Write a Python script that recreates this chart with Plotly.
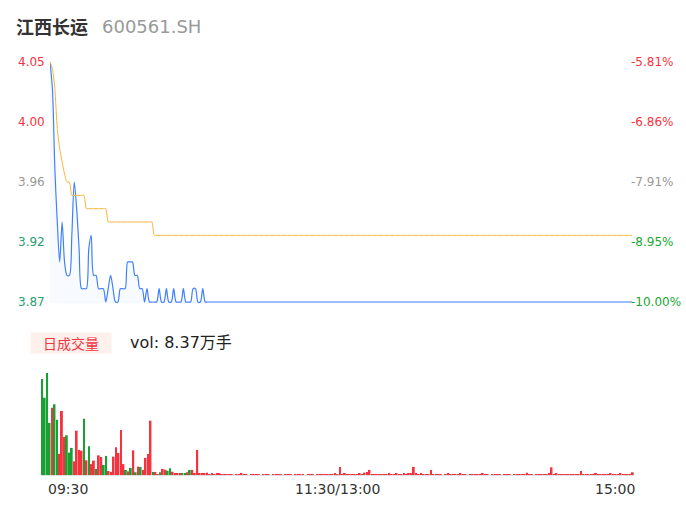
import plotly.graph_objects as go

# ---------------- data ----------------
stock_name = "江西长运"
stock_code = "600561.SH"
vol_label = "vol: 8.37万手"
time_labels = ["09:30", "11:30/13:00", "15:00"]
time_label_pos = [0, 120, 240]

price_ticks = [4.05, 4.005, 3.96, 3.915, 3.87]
price_tick_text = ["4.05", "4.00", "3.96", "3.92", "3.87"]
pct_tick_text = ["-5.81%", "-6.86%", "-7.91%", "-8.95%", "-10.00%"]

minutes = list(range(241))

price = [
    4.05, 4.03, 3.97, 3.93, 3.90, 3.93, 3.90, 3.89, 3.89, 3.92,
    3.96, 3.94, 3.91, 3.88, 3.88, 3.88, 3.91, 3.92, 3.89, 3.89,
    3.88, 3.88, 3.88, 3.87, 3.88, 3.89, 3.88, 3.87, 3.87, 3.88,
    3.88, 3.88, 3.90, 3.90, 3.90, 3.89, 3.89, 3.88, 3.88, 3.87,
    3.88, 3.87, 3.87, 3.87, 3.87, 3.88, 3.87, 3.87, 3.88, 3.87,
    3.87, 3.88, 3.87, 3.87, 3.87, 3.88, 3.87, 3.87, 3.87, 3.88,
    3.88, 3.87, 3.87, 3.88, 3.87, 3.87, 3.87, 3.87, 3.87, 3.87,
    3.87, 3.87, 3.87, 3.87, 3.87, 3.87, 3.87, 3.87, 3.87, 3.87,
    3.87, 3.87, 3.87, 3.87, 3.87, 3.87, 3.87, 3.87, 3.87, 3.87,
    3.87, 3.87, 3.87, 3.87, 3.87, 3.87, 3.87, 3.87, 3.87, 3.87,
    3.87, 3.87, 3.87, 3.87, 3.87, 3.87, 3.87, 3.87, 3.87, 3.87,
    3.87, 3.87, 3.87, 3.87, 3.87, 3.87, 3.87, 3.87, 3.87, 3.87,
    3.87, 3.87, 3.87, 3.87, 3.87, 3.87, 3.87, 3.87, 3.87, 3.87,
    3.87, 3.87, 3.87, 3.87, 3.87, 3.87, 3.87, 3.87, 3.87, 3.87,
    3.87, 3.87, 3.87, 3.87, 3.87, 3.87, 3.87, 3.87, 3.87, 3.87,
    3.87, 3.87, 3.87, 3.87, 3.87, 3.87, 3.87, 3.87, 3.87, 3.87,
    3.87, 3.87, 3.87, 3.87, 3.87, 3.87, 3.87, 3.87, 3.87, 3.87,
    3.87, 3.87, 3.87, 3.87, 3.87, 3.87, 3.87, 3.87, 3.87, 3.87,
    3.87, 3.87, 3.87, 3.87, 3.87, 3.87, 3.87, 3.87, 3.87, 3.87,
    3.87, 3.87, 3.87, 3.87, 3.87, 3.87, 3.87, 3.87, 3.87, 3.87,
    3.87, 3.87, 3.87, 3.87, 3.87, 3.87, 3.87, 3.87, 3.87, 3.87,
    3.87, 3.87, 3.87, 3.87, 3.87, 3.87, 3.87, 3.87, 3.87, 3.87,
    3.87, 3.87, 3.87, 3.87, 3.87, 3.87, 3.87, 3.87, 3.87, 3.87,
    3.87, 3.87, 3.87, 3.87, 3.87, 3.87, 3.87, 3.87, 3.87, 3.87,
    3.87,
]

avg_price = [
    4.05, 4.045, 4.03, 4.00, 3.985, 3.975, 3.966, 3.96, 3.96, 3.95,
    3.95, 3.95, 3.95, 3.95, 3.95, 3.94, 3.94, 3.94, 3.94, 3.94,
    3.94, 3.94, 3.94, 3.94, 3.93, 3.93, 3.93, 3.93, 3.93, 3.93,
    3.93, 3.93, 3.93, 3.93, 3.93, 3.93, 3.93, 3.93, 3.93, 3.93,
    3.93, 3.93, 3.93, 3.92, 3.92, 3.92, 3.92, 3.92, 3.92, 3.92,
    3.92, 3.92, 3.92, 3.92, 3.92, 3.92, 3.92, 3.92, 3.92, 3.92,
    3.92, 3.92, 3.92, 3.92, 3.92, 3.92, 3.92, 3.92, 3.92, 3.92,
    3.92, 3.92, 3.92, 3.92, 3.92, 3.92, 3.92, 3.92, 3.92, 3.92,
    3.92, 3.92, 3.92, 3.92, 3.92, 3.92, 3.92, 3.92, 3.92, 3.92,
    3.92, 3.92, 3.92, 3.92, 3.92, 3.92, 3.92, 3.92, 3.92, 3.92,
    3.92, 3.92, 3.92, 3.92, 3.92, 3.92, 3.92, 3.92, 3.92, 3.92,
    3.92, 3.92, 3.92, 3.92, 3.92, 3.92, 3.92, 3.92, 3.92, 3.92,
    3.92, 3.92, 3.92, 3.92, 3.92, 3.92, 3.92, 3.92, 3.92, 3.92,
    3.92, 3.92, 3.92, 3.92, 3.92, 3.92, 3.92, 3.92, 3.92, 3.92,
    3.92, 3.92, 3.92, 3.92, 3.92, 3.92, 3.92, 3.92, 3.92, 3.92,
    3.92, 3.92, 3.92, 3.92, 3.92, 3.92, 3.92, 3.92, 3.92, 3.92,
    3.92, 3.92, 3.92, 3.92, 3.92, 3.92, 3.92, 3.92, 3.92, 3.92,
    3.92, 3.92, 3.92, 3.92, 3.92, 3.92, 3.92, 3.92, 3.92, 3.92,
    3.92, 3.92, 3.92, 3.92, 3.92, 3.92, 3.92, 3.92, 3.92, 3.92,
    3.92, 3.92, 3.92, 3.92, 3.92, 3.92, 3.92, 3.92, 3.92, 3.92,
    3.92, 3.92, 3.92, 3.92, 3.92, 3.92, 3.92, 3.92, 3.92, 3.92,
    3.92, 3.92, 3.92, 3.92, 3.92, 3.92, 3.92, 3.92, 3.92, 3.92,
    3.92, 3.92, 3.92, 3.92, 3.92, 3.92, 3.92, 3.92, 3.92, 3.92,
    3.92, 3.92, 3.92, 3.92, 3.92, 3.92, 3.92, 3.92, 3.92, 3.92,
    3.92,
]

volume = [
    5280, 4250, 5610, 2860, 3700, 3890, 3040, 1160, 3520, 2090,
    2180, 1230, 1490, 750, 2440, 1380, 1340, 3100, 810, 1580,
    600, 790, 330, 1080, 990, 550, 1050, 220, 170, 1010,
    1520, 1210, 2480, 600, 280, 200, 390, 1360, 150, 460,
    440, 280, 940, 1150, 2990, 170, 170, 40, 150, 330,
    290, 240, 370, 180, 70, 60, 90, 60, 70, 150,
    280, 280, 110, 1380, 110,
    110, 110, 130, 40, 60, 30, 60, 60, 30, 20, 40, 30, 20, 0, 30, 40,
    110, 30, 20, 0, 30, 20, 40, 20, 0, 20, 30, 20, 0, 20, 40, 20,
    30, 0, 20, 30, 20, 0, 20, 40, 20, 30, 0, 20, 20, 30, 0, 20,
    20, 30, 40, 20, 30, 40, 60, 50, 440, 40, 90, 30, 20, 30, 20, 40,
    60, 40, 130, 170, 280, 50, 40, 30, 40, 50, 30, 40, 90, 30, 40, 110,
    40, 30, 60, 50, 110, 60, 440, 90, 40, 90, 30, 20, 40, 280, 30, 20,
    30, 20, 0, 40, 90, 20, 30, 20, 40, 90, 20, 30, 0, 20, 30, 20,
    40, 20, 90, 30, 20, 0, 20, 30, 20, 40, 0, 20, 30, 20, 0, 20,
    30, 20, 40, 30, 120, 30, 20, 0, 20, 30, 40, 20, 30, 60, 420, 40,
    60, 30, 20, 40, 30, 20, 30, 40, 20, 30, 220, 40, 30, 20, 30, 40,
    90, 30, 40, 20, 30, 20, 60, 30, 20, 40, 60, 30, 20, 30, 40, 150,
]

# u = up (red), d = down (green)
volume_dir = (
    "ddddudduuuddduuuududuuduuddu"
    "uuuuuududududuuuuduuduudduuu"
    "uddudu"
    "uuuuuuuuuuuuuuuuuuuuuuuuuuuuuuuuuuuuuuuuuuuuuu"
    "uuuuuuuuuuuuuuuuuuuuuuuuuuuuuuuuuuuuuuuuuuuuuu"
    "uuuuuuuuuuuuuuuuuuuuuuuuuuuuuuuuuuuuuuuuuuuuuu"
    "uuuuuuuuuuuuuuuuuuuuuuuuuuuuuuuuuuuuuuuuuuuuuuuuu"
)

# ---------------- styles ----------------
RED = "#f5333f"
GREEN_BAR = "#1aa032"
GREEN_L = "#28a070"
GREEN_R = "#18a832"
GRAY = "#999999"
left_colors = [RED, RED, GRAY, GREEN_L, GREEN_L]
right_colors = [RED, RED, GRAY, GREEN_R, GREEN_R]

W, H = 686, 524


def px_x(p):
    return p / W


def px_y(p):
    return 1 - p / H


bar_colors = [RED if volume_dir[i] == "u" else GREEN_BAR for i in range(len(volume))]

fig = go.Figure()

fig.add_trace(go.Scatter(
    x=minutes, y=price, mode="lines",
    line=dict(color="#4080ff", width=1.2, shape="spline", smoothing=0.8),
    fill="tozeroy", fillcolor="rgba(64,128,255,0.045)",
    xaxis="x", yaxis="y", hoverinfo="skip",
))
fig.add_trace(go.Scatter(
    x=minutes, y=avg_price, mode="lines",
    line=dict(color="#f7b43a", width=1, shape="spline", smoothing=0.6),
    xaxis="x", yaxis="y", hoverinfo="skip",
))
fig.add_trace(go.Bar(
    x=minutes, y=volume, marker=dict(color=bar_colors, line=dict(width=0)),
    xaxis="x2", yaxis="y2", hoverinfo="skip",
))

# price area: 4.05 -> y=62, 3.87 -> y=302  (240 px per 0.18)
y_lo, y_hi = 3.869, 4.051
top_px = 62 - (y_hi - 4.05) / 0.18 * 240
bot_px = 302 + (3.87 - y_lo) / 0.18 * 240

annotations = []
font_main = "DejaVu Sans, Noto Sans CJK SC, sans-serif"
for v, t, c in zip(price_ticks, price_tick_text, left_colors):
    annotations.append(dict(
        x=px_x(47), xref="paper", y=v, yref="y", text=t, showarrow=False,
        xanchor="right", yanchor="middle", font=dict(size=12, color=c, family=font_main),
    ))
for v, t, c in zip(price_ticks, pct_tick_text, right_colors):
    annotations.append(dict(
        x=px_x(629), xref="paper", y=v, yref="y", text=t, showarrow=False,
        xanchor="left", yanchor="middle", font=dict(size=12, color=c, family=font_main),
    ))

# title
annotations.append(dict(
    x=px_x(14), xref="paper", y=px_y(26), yref="paper", text="<b>" + stock_name + "</b>",
    showarrow=False, xanchor="left", yanchor="middle",
    font=dict(size=18, color="#333333", family="Noto Sans CJK SC, sans-serif"),
))
annotations.append(dict(
    x=px_x(100), xref="paper", y=px_y(26), yref="paper", text=stock_code,
    showarrow=False, xanchor="left", yanchor="middle",
    font=dict(size=18, color="#999999", family=font_main),
))

# volume header
annotations.append(dict(
    x=px_x(30), xref="paper", y=px_y(343), yref="paper", text="日成交量",
    showarrow=False, xanchor="left", yanchor="middle",
    width=80, height=20, bgcolor="#fff0ec", borderpad=0,
    font=dict(size=14, color=RED, family="Noto Sans CJK SC, sans-serif"),
))
annotations.append(dict(
    x=px_x(128), xref="paper", y=px_y(342), yref="paper", text=vol_label,
    showarrow=False, xanchor="left", yanchor="middle",
    font=dict(size=16, color="#222222", family=font_main),
))

# time labels
anchors = ["left", "center", "right"]
shifts = [4, 0, 4]
for pos, t, a, s in zip(time_label_pos, time_labels, anchors, shifts):
    annotations.append(dict(
        x=pos, xref="x2", y=px_y(489), yref="paper", text=t, showarrow=False,
        xanchor=a, yanchor="middle", xshift=s,
        font=dict(size=14, color="#333333", family=font_main),
    ))

vol_top_px, vol_bot_px = 365, 475
vol_max = 6050

fig.update_layout(
    width=W, height=H,
    margin=dict(l=0, r=0, t=0, b=0),
    paper_bgcolor="white", plot_bgcolor="white",
    showlegend=False,
    bargap=0.25,
    xaxis=dict(domain=[px_x(50), px_x(632)], range=[0, 240], visible=False,
               showgrid=False, zeroline=False, anchor="y"),
    yaxis=dict(domain=[px_y(bot_px), px_y(top_px)], range=[y_lo, y_hi], visible=False,
               showgrid=False, zeroline=False, anchor="x"),
    xaxis2=dict(domain=[px_x(41), px_x(634)], range=[-0.5, 240.5], showgrid=False,
                zeroline=False, showticklabels=False, ticks="", showline=True,
                linecolor="#e0e0e0", linewidth=1, anchor="y2"),
    yaxis2=dict(domain=[px_y(vol_bot_px), px_y(vol_top_px)], range=[0, vol_max],
                visible=False, showgrid=False, zeroline=False, anchor="x2"),
    annotations=annotations,
)

fig.write_html(
    "out.html",
    config={"displayModeBar": False},
    post_script="document.body.style.margin='0';document.body.style.overflow='hidden';",
)
